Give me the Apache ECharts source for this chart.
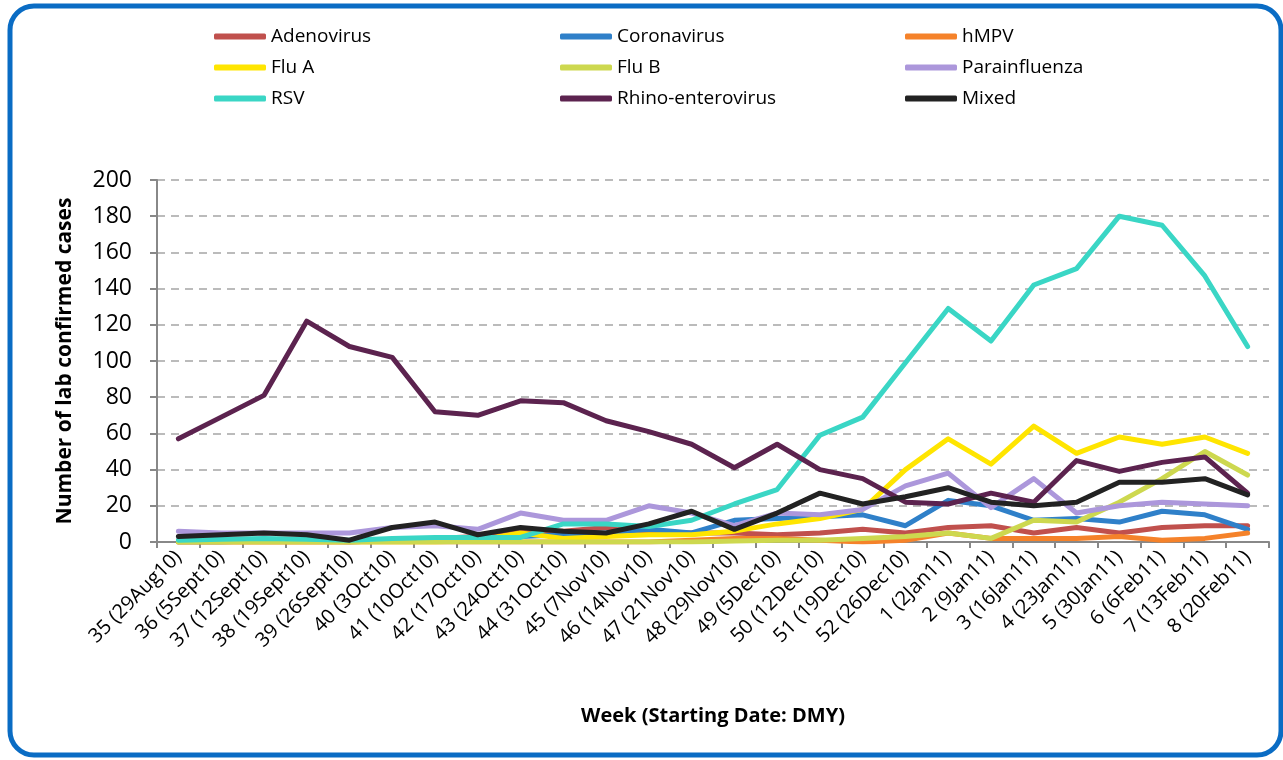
<!DOCTYPE html>
<html>
<head>
<meta charset="utf-8">
<script src="https://cdn.jsdelivr.net/npm/echarts@6/dist/echarts.min.js"></script>
<style>
  html, body { margin: 0; padding: 0; background: #fff; }
  #chart { width: 1283px; height: 760px; }
</style>
</head>
<body>
<div id="chart"></div>
<script>
// weeks (starting date, DMY)
var weeks = ['35 (29Aug10)', '36 (5Sept10)', '37 (12Sept10)', '38 (19Sept10)', '39 (26Sept10)',
  '40 (3Oct10)', '41 (10Oct10)', '42 (17Oct10)', '43 (24Oct10)', '44 (31Oct10)', '45 (7Nov10)',
  '46 (14Nov10)', '47 (21Nov10)', '48 (29Nov10)', '49 (5Dec10)', '50 (12Dec10)', '51 (19Dec10)',
  '52 (26Dec10)', '1 (2Jan11)', '2 (9Jan11)', '3 (16Jan11)', '4 (23Jan11)', '5 (30Jan11)',
  '6 (6Feb11)', '7 (13Feb11)', '8 (20Feb11)'];

var adenovirus = [0, 0, 0, 0, 0, 1, 2, 3, 6, 6, 8, 6, 5, 5, 4, 5, 7, 5, 8, 9, 5, 8, 5, 8, 9, 9];
var coronavirus = [0, 0, 1, 1, 0, 1, 1, 2, 3, 4, 5, 7, 5, 12, 13, 14, 15, 9, 23, 20, 12, 13, 11, 17, 15, 7];
var hmpv = [0, 0, 0, 0, 0, 0, 0, 0, 0, 0, 0, 0, 1, 2, 2, 1, 0, 1, 5, 2, 2, 2, 3, 1, 2, 5];
var fluA = [0, 0, 0, 0, 0, 0, 0, 1, 5, 2, 3, 4, 4, 6, 10, 13, 18, 40, 57, 43, 64, 49, 58, 54, 58, 49];
var fluB = [0, 0, 0, 0, 0, 0, 0, 0, 0, 0, 0, 0, 0, 0.5, 1, 1, 2, 3, 5, 2, 12, 11, 22, 35, 50, 37];
var parainfluenza = [6, 5, 5, 5, 5, 8, 9, 7, 16, 12, 12, 20, 16, 9, 16, 15, 18, 31, 38, 19, 35, 16, 20, 22, 21, 20];
var rsv = [1, 1.5, 2, 1.5, 1, 2, 2.5, 2.5, 2.5, 10, 10, 8.5, 12, 21, 29, 59, 69, 99, 129, 111, 142, 151, 180, 175, 147, 108];
var rhino = [57, 69, 81, 122, 108, 102, 72, 70, 78, 77, 67, 61, 54, 41, 54, 40, 35, 22, 21, 27, 22, 45, 39, 44, 47, 27];
var mixed = [3, 4, 5, 4, 1, 8, 11, 4, 8, 6, 5, 10, 17, 7, 16, 27, 21, 25, 30, 22, 20, 22, 33, 33, 35, 26];

var font = '"Open Sans", sans-serif';

function line(name, data, color) {
  return {
    name: name,
    type: 'line',
    data: data,
    symbol: 'none',
    lineStyle: { width: 5, color: color, cap: 'round', join: 'round' },
    itemStyle: { color: color }
  };
}

function legendCol(left, names) {
  return {
    orient: 'vertical',
    left: left,
    top: 19,
    itemWidth: 52,
    itemHeight: 6,
    itemGap: 6,
    icon: 'roundRect',
    data: names,
    textStyle: { fontFamily: font, fontSize: 19, color: '#000', padding: [0, 0, 0, 0], lineHeight: 25 }
  };
}

var myChart = echarts.init(document.getElementById('chart'));
var option = {
  animation: false,
  backgroundColor: '#fff',
  graphic: [{
    type: 'rect',
    shape: { x: 10, y: 6, width: 1271, height: 749, r: 24 },
    style: { fill: 'none', stroke: '#0a6cc4', lineWidth: 5 },
    silent: true
  }],
  legend: [
    legendCol(209, ['Adenovirus', 'Flu A', 'RSV']),
    legendCol(555, ['Coronavirus', 'Flu B', 'Rhino-enterovirus']),
    legendCol(900, ['hMPV', 'Parainfluenza', 'Mixed'])
  ],
  grid: { left: 157, right: 14, top: 180, bottom: 218 },
  xAxis: {
    type: 'category',
    data: weeks,
    boundaryGap: true,
    name: 'Week (Starting Date: DMY)',
    nameLocation: 'middle',
    nameGap: 164,
    nameTextStyle: { fontFamily: font, fontSize: 20, fontWeight: 'bold', color: '#000' },
    axisLine: { lineStyle: { color: '#888', width: 2 } },
    axisTick: { show: true, alignWithLabel: false, length: 6, lineStyle: { color: '#888', width: 2 } },
    axisLabel: { rotate: 45, interval: 0, margin: 12, fontFamily: font, fontSize: 20, color: '#000' }
  },
  yAxis: {
    type: 'value',
    min: 0,
    max: 200,
    interval: 20,
    name: 'Number of lab confirmed cases',
    nameLocation: 'middle',
    nameGap: 81,
    nameTextStyle: { fontFamily: font, fontSize: 21, fontWeight: 'bold', color: '#000' },
    axisLine: { show: true, lineStyle: { color: '#888', width: 2 } },
    axisTick: { show: true, length: 7, lineStyle: { color: '#888', width: 2 } },
    axisLabel: { margin: 25, fontFamily: font, fontSize: 23, color: '#000' },
    splitLine: { show: true, lineStyle: { color: '#bbb', type: [8, 6], width: 2 } }
  },
  series: [
    line('Adenovirus', adenovirus, '#c0504d'),
    line('Coronavirus', coronavirus, '#2f80c9'),
    line('hMPV', hmpv, '#f5822a'),
    line('Flu A', fluA, '#ffe500'),
    line('Flu B', fluB, '#cdd84f'),
    line('Parainfluenza', parainfluenza, '#ac97db'),
    line('RSV', rsv, '#3ad6c5'),
    line('Rhino-enterovirus', rhino, '#5c234f'),
    line('Mixed', mixed, '#222222')
  ]
};
myChart.setOption(option);
window.onresize = function () { myChart.resize(); };
</script>
</body>
</html>
